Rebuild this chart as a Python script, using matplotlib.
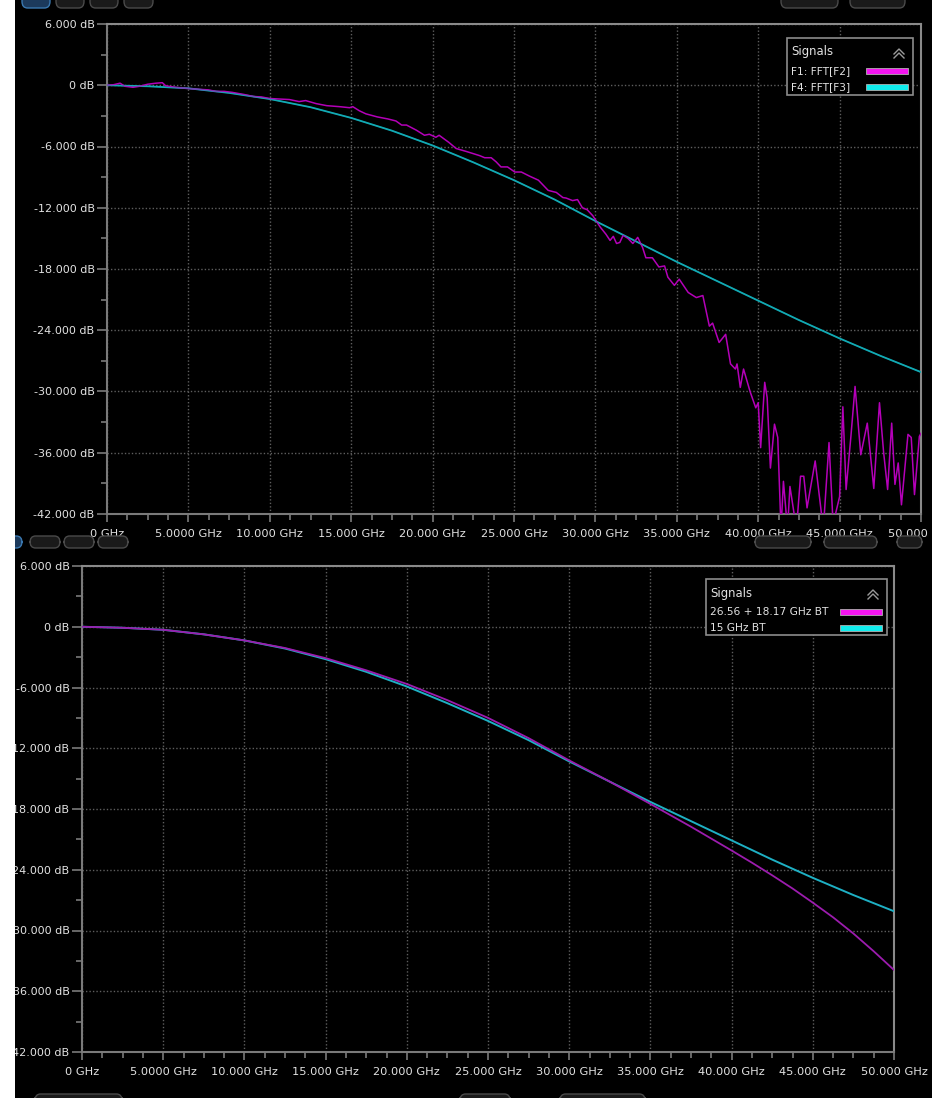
import matplotlib
matplotlib.use('Agg')
import matplotlib.pyplot as plt
from matplotlib.patches import Rectangle, FancyBboxPatch
from matplotlib.lines import Line2D
from matplotlib.ticker import MultipleLocator

W, H = 932, 1098

# frequency axis ticks / labels
freq_ticks = [0, 5, 10, 15, 20, 25, 30, 35, 40, 45, 50]
freq_labels = ['0 GHz', '5.0000 GHz', '10.000 GHz', '15.000 GHz', '20.000 GHz', '25.000 GHz',
               '30.000 GHz', '35.000 GHz', '40.000 GHz', '45.000 GHz', '50.000 GHz']
db_ticks = [6, 0, -6, -12, -18, -24, -30, -36, -42]
db_labels = ['6.000 dB', '0 dB', '-6.000 dB', '-12.000 dB', '-18.000 dB', '-24.000 dB',
             '-30.000 dB', '-36.000 dB', '-42.000 dB']

# F4: FFT[F3] / 15 GHz BT (smooth response)
bt15_f = [0, 2.5, 5, 7.5, 10, 12.5, 15, 17.5, 20, 22.5, 25, 27.5, 30, 32.5, 35, 37.5, 40, 42.5, 45, 47.5, 50]
bt15_db = [0.0, -0.1, -0.3, -0.75, -1.35, -2.15, -3.2, -4.45, -5.9, -7.55, -9.3, -11.2, -13.3, -15.3,
           -17.3, -19.2, -21.1, -23.0, -24.8, -26.5, -28.1]

# F1: FFT[F2] measured response
fft_f = [0.0, 0.4, 0.8, 1.1, 1.6, 2.0, 2.5, 3.0, 3.4, 3.6, 4.2, 4.85, 5.65, 6.2, 6.7, 7.2, 7.7, 8.4, 9.0,
         9.5, 10.0, 10.6, 11.2, 11.8, 12.2, 12.85, 13.5, 14.3, 14.9, 15.1, 15.5, 15.9, 16.6, 17.25, 17.75,
         18.1, 18.4, 19.0, 19.5, 19.8, 20.2, 20.4, 21.0, 21.45, 22.1, 22.9, 23.2, 23.6, 23.9, 24.2, 24.6,
         25.05, 25.45, 25.95, 26.5, 27.1, 27.6, 28.0, 28.2, 28.6, 28.9, 29.2, 29.5, 29.85, 30.3, 30.65,
         30.9, 31.1, 31.3, 31.5, 31.7, 32.0, 32.3, 32.6, 32.9, 33.1, 33.5, 33.9, 34.25, 34.45, 34.85,
         35.15, 35.7, 36.2, 36.6, 37.0, 37.2, 37.6, 38.0, 38.3, 38.6, 38.7, 38.9, 39.1, 39.5, 39.85,
         40.0, 40.15, 40.4, 40.55, 40.75, 41.0, 41.2, 41.4, 41.55, 41.8, 41.95, 42.35, 42.6, 42.8, 43.0,
         43.5, 44.0, 44.35, 44.6, 45.0, 45.2, 45.4, 45.7, 45.95, 46.3, 46.7, 47.1, 47.45, 47.7, 47.95,
         48.2, 48.4, 48.6, 48.8, 49.2, 49.4, 49.6, 49.9, 50.0]
fft_db = [0.0, 0.05, 0.2, -0.1, -0.2, -0.1, 0.1, 0.2, 0.25, -0.05, -0.2, -0.3, -0.4, -0.45, -0.6, -0.6,
          -0.7, -0.9, -1.1, -1.15, -1.3, -1.35, -1.4, -1.6, -1.5, -1.8, -2.0, -2.1, -2.2, -2.1, -2.5, -2.8,
          -3.1, -3.3, -3.5, -3.9, -3.9, -4.4, -4.9, -4.8, -5.1, -4.9, -5.6, -6.2, -6.5, -6.9, -7.1, -7.1,
          -7.5, -8.0, -8.0, -8.5, -8.5, -8.9, -9.3, -10.3, -10.5, -11.0, -11.05, -11.3, -11.2, -12.0,
          -12.2, -12.8, -13.9, -14.6, -15.2, -14.8, -15.5, -15.4, -14.7, -15.0, -15.5, -14.9, -15.9,
          -16.9, -16.9, -17.8, -17.7, -18.8, -19.6, -19.0, -20.3, -20.8, -20.6, -23.6, -23.3, -25.2,
          -24.4, -27.3, -27.8, -27.3, -29.6, -27.8, -30.0, -31.6, -31.1, -35.5, -29.1, -30.6, -37.5,
          -33.2, -34.5, -43.5, -38.8, -43.5, -39.3, -43.5, -38.3, -38.3, -41.4, -36.8, -43.5, -35.0,
          -43.0, -40.3, -31.5, -39.6, -34.3, -29.5, -36.2, -33.1, -39.5, -31.1, -35.9, -39.6, -33.1,
          -39.1, -37.0, -41.1, -34.2, -34.5, -40.1, -34.4, -34.1]

# 26.56 + 18.17 GHz BT cascade
bt_cas_f = [0, 2.5, 5, 7.5, 10, 12.5, 15, 17.5, 20, 22.5, 25, 27.5, 30, 32.5, 35, 37.5, 40,
            41.25, 42.5, 43.75, 45, 46.25, 47.5, 48.75, 50]
bt_cas_db = [0.0, -0.1, -0.3, -0.75, -1.35, -2.1, -3.1, -4.3, -5.65, -7.25, -9.0, -11.0, -13.2, -15.3,
             -17.5, -19.75, -22.1, -23.3, -24.55, -25.85, -27.25, -28.7, -30.3, -32.05, -33.9]

GRID = '#5e5e5e'
FRAME = '#7a7a7a'
TXT = '#e2e2e2'


def px(x, y):
    return x / W, 1 - y / H


def style_axes(ax):
    ax.set_facecolor('black')
    ax.set_xlim(0, 50)
    ax.set_ylim(-42, 6)
    ax.set_xticks(freq_ticks)
    ax.set_xticklabels(freq_labels)
    ax.set_yticks(db_ticks)
    ax.set_yticklabels(db_labels)
    ax.xaxis.set_minor_locator(MultipleLocator(1.25))
    ax.yaxis.set_minor_locator(MultipleLocator(3))
    ax.tick_params(axis='both', which='major', colors=FRAME, labelcolor=TXT,
                   direction='out', width=1.2)
    ax.tick_params(axis='x', which='major', length=6, pad=5, labelsize=8.2)
    ax.tick_params(axis='y', which='major', length=7, pad=2, labelsize=8)
    ax.tick_params(axis='both', which='minor', colors=FRAME, length=4, width=1.2, direction='out')
    for side in ['top', 'right']:
        ax.spines[side].set_color('#8a8a8a')
        ax.spines[side].set_linewidth(1.5)
    for side in ['left', 'bottom']:
        ax.spines[side].set_color(FRAME)
        ax.spines[side].set_linewidth(1.5)
    ax.grid(True, which='major', color=GRID, linestyle=(0, (1, 1.5)), linewidth=1.0)
    ax.set_axisbelow(True)


def legend_box(fig, x0, y0, x1, y1, names, colors):
    fig.patches.append(Rectangle(px(x0, y1), (x1 - x0) / W, (y1 - y0) / H, transform=fig.transFigure,
                                 facecolor='black', edgecolor='#8c8c8c', linewidth=1.2, zorder=5))
    fig.text(*px(x0 + 4, y0 + 14), 'Signals', color=TXT, fontsize=8.4, va='center', ha='left', zorder=6)
    # collapse chevrons
    cx = x1 - 14
    for dy in (0, 4):
        fig.lines.append(Line2D([px(cx - 5, 0)[0], px(cx, 0)[0], px(cx + 5, 0)[0]],
                                [px(0, y0 + 16 + dy)[1], px(0, y0 + 11 + dy)[1], px(0, y0 + 16 + dy)[1]],
                                transform=fig.transFigure, color='#9a9a9a', linewidth=1.0, zorder=6))
    for i, (name, col) in enumerate(zip(names, colors)):
        yc = y0 + 33 + 16 * i
        fig.text(*px(x0 + 4, yc), name, color=TXT, fontsize=7.7, va='center', ha='left', zorder=6)
        sx0 = x1 - 47
        fig.patches.append(Rectangle(px(sx0, yc + 3), 42 / W, 6 / H, transform=fig.transFigure,
                                     facecolor=col, edgecolor='#b0b0b0', linewidth=0.6, zorder=6))


def button(fig, x0, y0, x1, y1, face='#1a1a1a', edge='#4a4a4a'):
    fig.patches.append(FancyBboxPatch(px(x0, y1), (x1 - x0) / W, (y1 - y0) / H,
                                      boxstyle='round,pad=0,rounding_size=0.006',
                                      transform=fig.transFigure, facecolor=face, edgecolor=edge,
                                      linewidth=1.0, zorder=3))


fig = plt.figure(figsize=(W / 100, H / 100), dpi=100, facecolor='black')

# upper panel: FFT of measured vs 15 GHz BT
ax1 = fig.add_axes([107 / W, 1 - 514 / H, (921 - 107) / W, (514 - 24) / H])
style_axes(ax1)
ax1.plot(bt15_f, bt15_db, color='#12aab4', linewidth=1.3, zorder=3)
ax1.plot(fft_f, fft_db, color='#b400b8', linewidth=1.1, zorder=4)
ax1.plot(bt15_f, bt15_db, color='#12aab4', linewidth=0.8, alpha=0.5, zorder=5)

# lower panel: BT filter models
ax2 = fig.add_axes([82 / W, 1 - 1052 / H, (894 - 82) / W, (1052 - 566) / H])
style_axes(ax2)
ax2.plot(bt15_f, bt15_db, color='#1eb0c4', linewidth=1.4, zorder=3)
ax2.plot(bt_cas_f, bt_cas_db, color='#9c1cae', linewidth=1.3, zorder=4)

legend_box(fig, 787, 38, 913, 95, ['F1: FFT[F2]', 'F4: FFT[F3]'], ['#f414f0', '#10ecec'])
legend_box(fig, 706, 579, 887, 635, ['26.56 + 18.17 GHz BT', '15 GHz BT'], ['#f414f0', '#10ecec'])

# toolbar buttons peeking at the panel edges
button(fig, 22, -6, 50, 8, face='#1c3a5c', edge='#3a78b0')
button(fig, 56, -6, 84, 8)
button(fig, 90, -6, 118, 8)
button(fig, 124, -6, 153, 8)
button(fig, 781, -6, 838, 8)
button(fig, 850, -6, 905, 8)
button(fig, 8, 536, 22, 548, face='#1c3a5c', edge='#3a78b0')
button(fig, 30, 536, 60, 548)
button(fig, 64, 536, 94, 548)
button(fig, 98, 536, 128, 548)
button(fig, 755, 536, 811, 548)
button(fig, 824, 536, 877, 548)
button(fig, 897, 536, 922, 548)
button(fig, 35, 1094, 122, 1104)
button(fig, 460, 1094, 510, 1104)
button(fig, 560, 1094, 645, 1104)

# white margin on the left edge
fig.patches.append(Rectangle((0, 0), 15 / W, 1, transform=fig.transFigure,
                             facecolor='white', edgecolor='none', zorder=20))

fig.savefig('out.png', dpi=100, facecolor='black')
